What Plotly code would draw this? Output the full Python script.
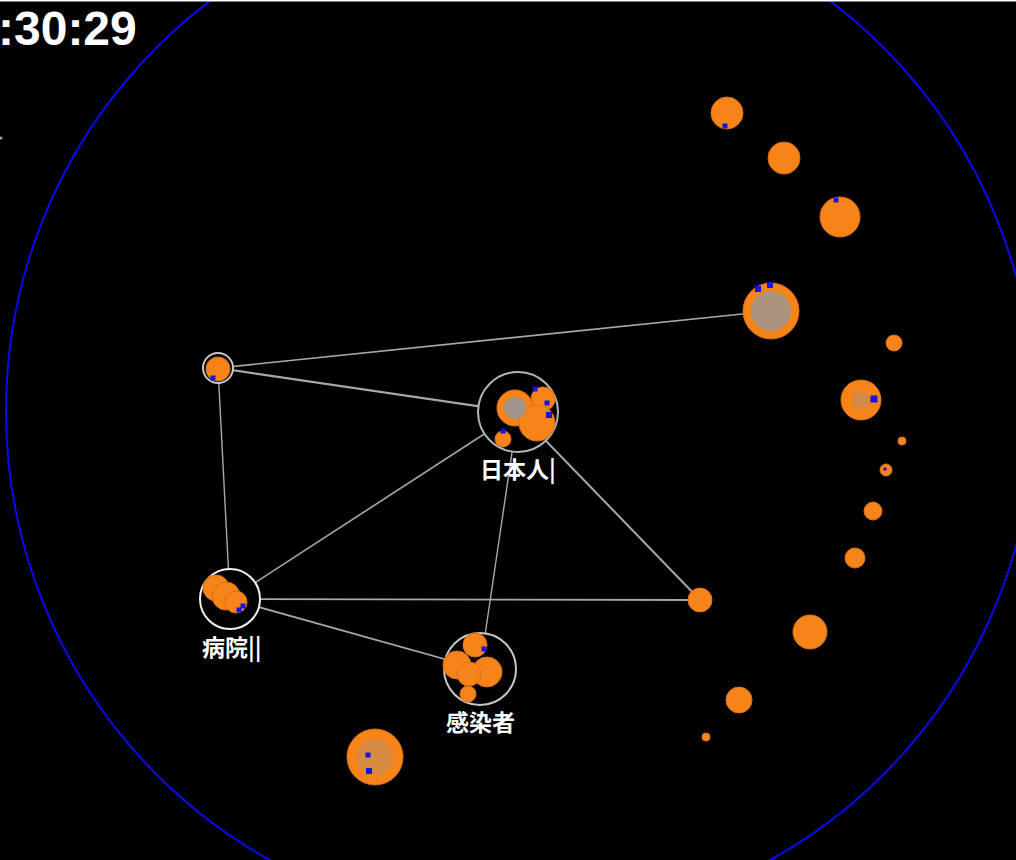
import plotly.graph_objects as go

# ---------------- data ----------------
W, H = 1016, 860

# free-standing nodes (x, y in screen pixels, radius in px)
node_x = [727, 784, 840, 771, 894, 861, 902, 886, 873, 855, 700, 810, 739, 706, 375, 218]
node_y = [113, 158, 217, 311, 343, 400, 441, 470, 511, 558, 600, 632, 700, 737, 757, 369]
node_r = [16, 16, 20, 28, 8, 20, 4, 6, 9, 10, 12, 17, 13, 4, 28, 12]

# grey cores inside some nodes
core_x = [771, 375, 861, 515]
core_y = [311, 757, 400, 408]
core_r = [20, 18, 9, 11]
core_op = [0.85, 0.35, 0.4, 0.95]

# cluster blobs
blob_x = [515, 543, 537, 503, 216, 226, 236, 475, 457, 487, 469, 468]
blob_y = [408, 399, 423, 439, 588, 596, 602, 645, 665, 672, 674, 694]
blob_r = [18, 12, 18, 8, 13, 14, 11, 12, 14, 15, 12, 8]

# ring groups
ring_names = ["n16", "日本人", "病院", "感染者"]
ring_x = [218, 518, 230, 480]
ring_y = [368, 412, 599, 669]
ring_r = [15, 40, 30, 36]
ring_color = ["#C8C8C8", "#B4B4B4", "#F0F0F0", "#C8C8C8"]
ring_labels = ["", "日本人|", "病院||", "感染者"]
label_x = [0, 518, 232, 480]
label_y = [0, 468, 646, 721]

# extra named points for edge endpoints
point_names = ["n16", "日本人", "病院", "感染者", "n4", "n11"]
point_x = [218, 518, 230, 480, 771, 700]
point_y = [368, 412, 599, 669, 311, 600]

edges = [("n16", "n4"), ("n16", "日本人"), ("n16", "病院"), ("病院", "日本人"),
         ("病院", "n11"), ("病院", "感染者"), ("感染者", "日本人"), ("日本人", "n11")]
edge_w = [1.6, 2.2, 1.4, 1.6, 1.8, 1.8, 1.4, 2.0]

# blue markers (small squares)
blue_x = [725, 836, 758, 770, 874, 885, 369, 368, 535, 547, 549, 503, 239, 243, 484, 213]
blue_y = [126, 200, 289, 285, 399, 469, 771, 755, 389, 403, 415, 431, 610, 606, 649, 378]
blue_s = [5, 5, 6, 6, 7, 3, 6, 5, 5, 5, 6, 5, 5, 5, 5, 5]

# outer boundary circle
bound_cx, bound_cy, bound_r = 520, 411, 514

timer_text = ":30:29"

ORANGE = "#F68419"
ORANGE_EDGE = "#D9701A"

# ---------------- figure ----------------
fig = go.Figure()

pos = dict(zip(point_names, zip(point_x, point_y)))

for (a, b), w in zip(edges, edge_w):
    (x0, y0), (x1, y1) = pos[a], pos[b]
    fig.add_trace(go.Scatter(x=[x0, x1], y=[y0, y1], mode="lines",
                             line=dict(color="#A8A8A8", width=w),
                             hoverinfo="skip", showlegend=False))

# rings (black fill hides edge ends)
fig.add_trace(go.Scatter(x=ring_x, y=ring_y, mode="markers",
                         marker=dict(size=[2 * r for r in ring_r], color="black", opacity=1,
                                     line=dict(color=ring_color, width=2)),
                         hoverinfo="skip", showlegend=False))

# nodes
fig.add_trace(go.Scatter(x=node_x, y=node_y, mode="markers",
                         marker=dict(size=[2 * r for r in node_r], color=ORANGE, opacity=1,
                                     line=dict(color=ORANGE_EDGE, width=1)),
                         hoverinfo="skip", showlegend=False))

# cluster blobs
fig.add_trace(go.Scatter(x=blob_x, y=blob_y, mode="markers",
                         marker=dict(size=[2 * r for r in blob_r], color=ORANGE, opacity=1,
                                     line=dict(color=ORANGE_EDGE, width=1)),
                         hoverinfo="skip", showlegend=False))

# grey cores
for cx, cy, cr, op in zip(core_x, core_y, core_r, core_op):
    fig.add_trace(go.Scatter(x=[cx], y=[cy], mode="markers",
                             marker=dict(size=2 * cr, color="#9C948E", opacity=op,
                                         line=dict(width=0)),
                             hoverinfo="skip", showlegend=False))

# blue squares
fig.add_trace(go.Scatter(x=blue_x, y=blue_y, mode="markers",
                         marker=dict(symbol="square", size=blue_s, color="#1414E6", opacity=1,
                                     line=dict(width=0)),
                         hoverinfo="skip", showlegend=False))

# stray grey dot at left edge
fig.add_trace(go.Scatter(x=[1], y=[138], mode="markers",
                         marker=dict(size=3, color="#A0A0A0", opacity=1),
                         hoverinfo="skip", showlegend=False))

# labels
for lab, lx, ly in zip(ring_labels, label_x, label_y):
    if lab:
        fig.add_annotation(x=lx, y=ly, text="<b>" + lab + "</b>", showarrow=False,
                           font=dict(family="Noto Sans CJK JP", size=23, color="white"),
                           xanchor="center", yanchor="middle")

fig.add_annotation(x=139, y=28, text="<b>" + timer_text + "</b>", showarrow=False,
                   font=dict(family="Liberation Sans", size=48, color="white"),
                   xanchor="right", yanchor="middle")

# boundary circle
fig.add_shape(type="circle", xref="x", yref="y",
              x0=bound_cx - bound_r, x1=bound_cx + bound_r,
              y0=bound_cy - bound_r, y1=bound_cy + bound_r,
              line=dict(color="#0A0AF0", width=2), layer="below")

# top white border
fig.add_shape(type="line", xref="paper", yref="paper", x0=0, x1=1, y0=1, y1=1,
              line=dict(color="white", width=3))

fig.update_xaxes(range=[0, W], visible=False, fixedrange=True)
fig.update_yaxes(range=[H, 0], visible=False, fixedrange=True)
fig.update_layout(width=W, height=H, margin=dict(l=0, r=0, t=0, b=0),
                  paper_bgcolor="black", plot_bgcolor="black",
                  showlegend=False)

fig.write_html("out.html", config={"displayModeBar": False},
               post_script="document.body.style.margin='0';document.body.style.background='black';")
